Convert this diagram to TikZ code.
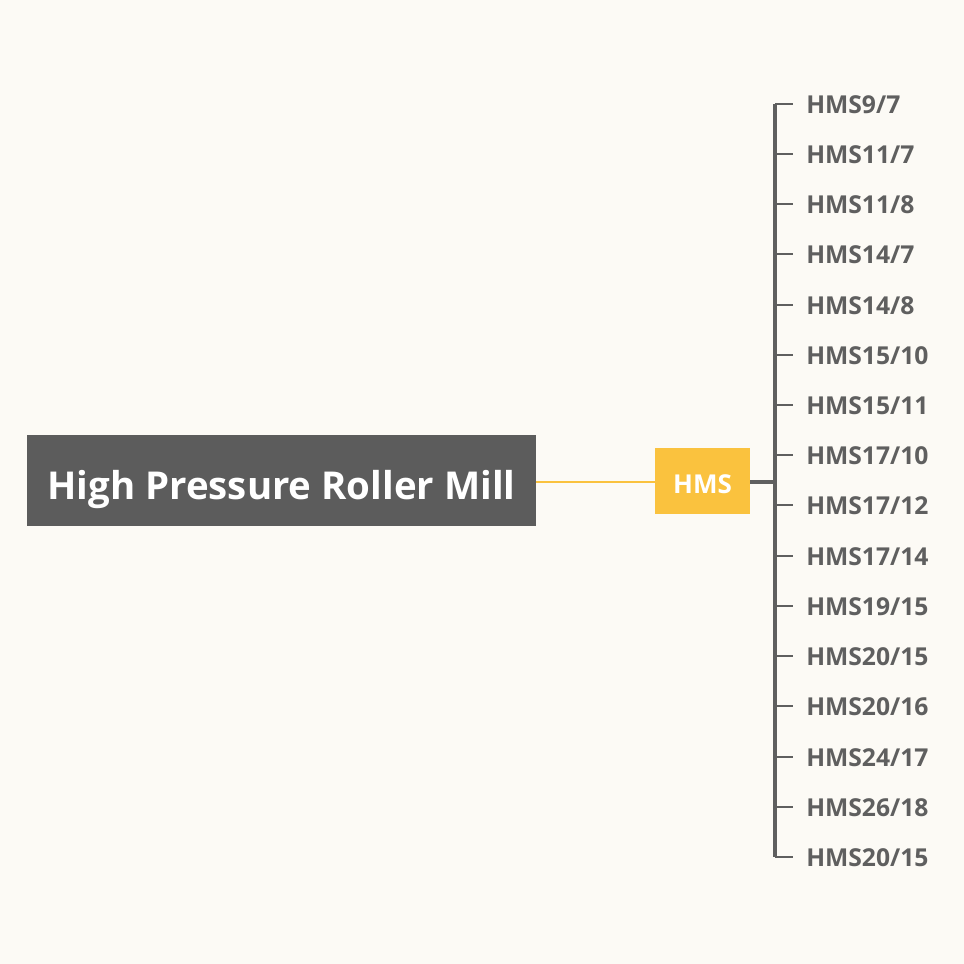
\documentclass[tikz,border=0pt]{standalone}
\usepackage{fontspec}
\setmainfont{Open Sans}
\definecolor{bg}{HTML}{FCFAF5}
\definecolor{dk}{HTML}{5C5C5C}
\definecolor{yl}{HTML}{FAC23E}
\definecolor{tx}{HTML}{5F5F5F}
\begin{document}
\begin{tikzpicture}[x=0.75pt,y=-0.75pt,
  rootbox/.style={fill=dk,text=white,font=\bfseries\fontsize{28.8}{34}\selectfont,minimum width=509*0.75pt,minimum height=91*0.75pt,inner sep=0pt,text height=27.8pt,text depth=0pt},
  hmsbox/.style={fill=yl,text=white,font=\bfseries\fontsize{19.5}{23}\selectfont,minimum width=95*0.75pt,minimum height=66*0.75pt,inner sep=0pt,text height=18pt,text depth=0pt},
  leaf/.style={anchor=west,text=tx,font=\bfseries\fontsize{18.5}{22}\selectfont,inner sep=0pt,text height=13.5pt,text depth=0pt},
  trunk/.style={draw=tx,line width=2.4pt},
  twig/.style={draw=tx,line width=2pt}]
\fill[bg] (0,0) rectangle (964,964);
\useasboundingbox (0,0) rectangle (964,964);
\node[rootbox] (root) at (281.5,480.5) {High Pressure Roller Mill};
\node[hmsbox] (hms) at (702.5,481) {HMS};
\draw[yl,line width=1.8pt] (root.east |- 0,482) -- (hms.west |- 0,482);
\coordinate (j) at (775,482);
\draw[trunk] (hms.east |- 0,482) -- (j);
\foreach \i/\t/\y in {1/HMS9\slash 7/104,2/HMS11\slash 7/154,3/HMS11\slash 8/204,4/HMS14\slash 7/254,5/HMS14\slash 8/305,6/HMS15\slash 10/355,7/HMS15\slash 11/405,8/HMS17\slash 10/455,9/HMS17\slash 12/505,10/HMS17\slash 14/556,11/HMS19\slash 15/606,12/HMS20\slash 15/656,13/HMS20\slash 16/706,14/HMS24\slash 17/757,15/HMS26\slash 18/807,16/HMS20\slash 15/857}{
  \node[leaf] (l\i) at (806,\y) {\t};
  \coordinate (b\i) at (775,\y);
  \coordinate (e\i) at (793,\y);
  \draw[twig] (b\i) -- (e\i);
}
\draw[trunk] (b1) -- (b16);
\end{tikzpicture}
\end{document}
